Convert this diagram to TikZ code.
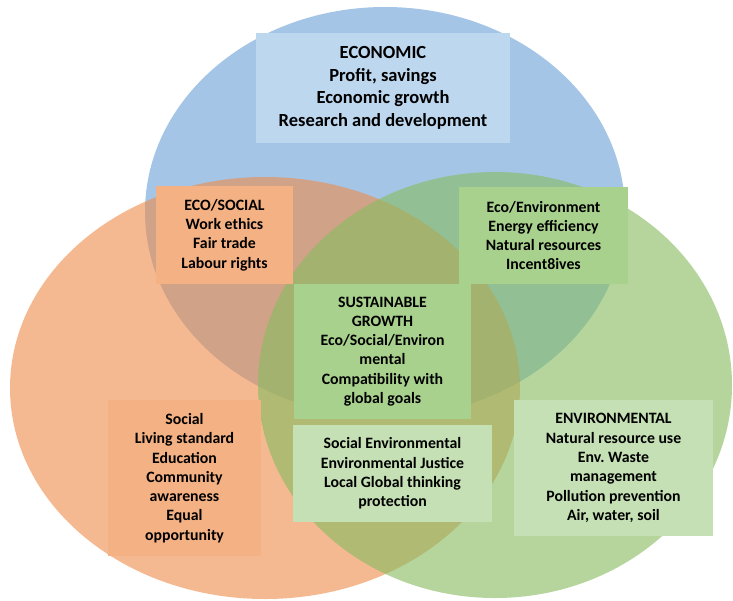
\documentclass[tikz,border=0pt]{standalone}
\usepackage{fontspec}
\setmainfont{Carlito}
\usepackage{tikz}
\usepackage{xcolor}
\usetikzlibrary{positioning}

\definecolor{econblue}{RGB}{90,150,210}
\definecolor{socorange}{RGB}{238,138,72}
\definecolor{envgreen}{RGB}{135,188,97}
\definecolor{boxblue}{RGB}{189,215,238}
\definecolor{boxorange}{RGB}{244,177,131}
\definecolor{boxgreen}{RGB}{169,209,142}
\definecolor{boxlight}{RGB}{197,224,180}

\begin{document}
\begin{tikzpicture}[x=1pt, y=-1pt,
    infobox/.style={rectangle, inner sep=0pt, align=center, font=\bfseries\fontsize{15.8}{19.3}\selectfont},
    bigbox/.style={infobox, font=\bfseries\fontsize{18.5}{22.5}\selectfont}]
                    \useasboundingbox (0,0) rectangle (733,600);

                    % the three circles
                    \fill[econblue, fill opacity=0.55] (385,212) ellipse [x radius=240pt, y radius=205pt];
                    \fill[socorange, fill opacity=0.6] (265,388) ellipse [x radius=255pt, y radius=211pt];
                    \fill[envgreen, fill opacity=0.62] (495,385) ellipse [x radius=237pt, y radius=213pt];

                    % text boxes
                    \node[bigbox, fill=boxblue, minimum width=254pt, minimum height=110pt] (econ) at (383,88)
                        {ECONOMIC\\Profit, savings\\Economic growth\\Research and development};
                    \node[infobox, fill=boxorange, minimum width=137pt, minimum height=98pt] (ecosoc) at (224.5,235)
                        {ECO/SOCIAL\\Work ethics\\Fair trade\\Labour rights};
                    \node[infobox, fill=boxgreen, minimum width=169pt, minimum height=97pt] (ecoenv) at (543.5,235.5)
                        {Eco/Environment\\Energy efficiency\\Natural resources\\Incent8ives};
                    \node[infobox, fill=boxgreen, minimum width=177pt, minimum height=135pt] (sust) at (382.5,351.5)
                        {SUSTAINABLE\\GROWTH\\Eco/Social/Environ\\mental\\Compatibility with\\global goals};
                    \node[infobox, fill=boxorange, minimum width=153pt, minimum height=156pt] (social) at (184.5,478)
                        {Social\\Living standard\\Education\\Community\\awareness\\Equal\\opportunity};
                    \node[infobox, fill=boxlight, minimum width=199pt, minimum height=97pt] (socenv) at (392.5,473.5)
                        {Social Environmental\\Environmental Justice\\Local Global thinking\\protection};
                    \node[infobox, fill=boxlight, minimum width=199pt, minimum height=136pt] (envir) at (613.5,468)
                        {ENVIRONMENTAL\\Natural resource use\\Env.\ Waste\\management\\Pollution prevention\\Air, water, soil};
                \end{tikzpicture}
\end{document}
